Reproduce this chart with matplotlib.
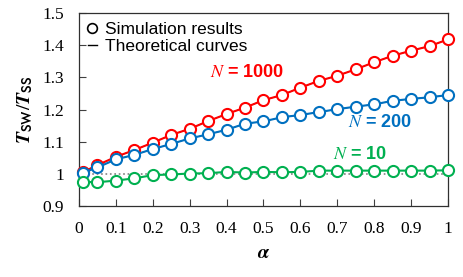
import numpy as np
import matplotlib
matplotlib.use("Agg")
import matplotlib.pyplot as plt
from matplotlib.lines import Line2D

# alpha values of the simulation points
ALPHA = [0.01, 0.05, 0.1, 0.15, 0.2, 0.25, 0.3, 0.35, 0.4, 0.45, 0.5,
         0.55, 0.6, 0.65, 0.7, 0.75, 0.8, 0.85, 0.9, 0.95, 1.0]

# T_SW / T_SS
N1000 = [1.005, 1.027, 1.053, 1.074, 1.097, 1.121, 1.140, 1.164, 1.186, 1.206, 1.229,
         1.245, 1.268, 1.289, 1.305, 1.325, 1.347, 1.367, 1.383, 1.397, 1.418]
N200 = [1.003, 1.020, 1.045, 1.059, 1.077, 1.093, 1.110, 1.123, 1.137, 1.156, 1.163,
        1.176, 1.183, 1.192, 1.201, 1.209, 1.216, 1.227, 1.233, 1.238, 1.245]
N10 = [0.975, 0.974, 0.979, 0.986, 0.996, 0.998, 1.001, 1.002, 1.006, 1.004, 1.006,
       1.005, 1.006, 1.010, 1.010, 1.010, 1.010, 1.010, 1.010, 1.010, 1.011]

# theoretical curve for N = 10 sits on 1
THEORY10 = [1.0, 1.0]
THEORY10_X = [0.0, 1.0]

LABELS = ["$N$ = 1000", "$N$ = 200", "$N$ = 10"]
COLORS = ["#ff0000", "#0070c0", "#00b050"]

SERIF = "Liberation Serif"
SANS = "Liberation Sans"


def main():
    fig = plt.figure(figsize=(4.63, 2.77), dpi=100)
    ax = fig.add_axes([0.1706, 0.2563, 0.7970, 0.6967])

    # theoretical curves (thin, underneath)
    for ys in (N1000, N200):
        ax.plot(ALPHA, ys, color="black", linewidth=0.6, zorder=2)
    ax.plot(THEORY10_X, THEORY10, color="#808080", linewidth=1.2,
            linestyle=":", zorder=2)

    # simulation results
    for ys, c in zip((N1000, N200, N10), COLORS):
        ax.plot(ALPHA, ys, color=c, linewidth=1.5, marker="o", markersize=8,
                markerfacecolor="white", markeredgecolor=c,
                markeredgewidth=1.5, zorder=3, clip_on=False)

    # labels on the curves
    pos = [(0.455, 1.314), (0.815, 1.160), (0.762, 1.061)]
    for (x, y), lab, c in zip(pos, LABELS, COLORS):
        ax.text(x, y, lab, color=c, fontsize=13, fontweight="bold",
                family=SANS, ha="center", va="center",
                math_fontfamily="stix")

    ax.set_xlim(0, 1)
    ax.set_ylim(0.9, 1.5)
    ax.set_xticks(np.arange(0, 1.01, 0.1))
    ax.set_xticklabels(["0", "0.1", "0.2", "0.3", "0.4", "0.5",
                        "0.6", "0.7", "0.8", "0.9", "1"])
    ax.set_yticks(np.arange(0.9, 1.51, 0.1))
    ax.set_yticklabels(["0.9", "1", "1.1", "1.2", "1.3", "1.4", "1.5"])
    ax.tick_params(direction="in", length=5, width=0.8, color="#404040",
                   labelsize=12.5, pad=11)
    for lab in ax.get_xticklabels() + ax.get_yticklabels():
        lab.set_family(SERIF)
    for s in ax.spines.values():
        s.set_color("#303030")
        s.set_linewidth(0.9)

    ax.set_xlabel(r"$\boldsymbol{\alpha}$", fontsize=14, labelpad=4,
                  math_fontfamily="stix")
    ax.set_ylabel(r"$\boldsymbol{T}_{\mathbf{\mathsf{SW}}}/\boldsymbol{T}_{\mathbf{\mathsf{SS}}}$",
                  fontsize=14, labelpad=5, math_fontfamily="stix")

    handles = [
        Line2D([], [], linestyle="none", marker="o", markersize=7,
               markerfacecolor="white", markeredgecolor="black",
               markeredgewidth=1.2),
        Line2D([], [], color="black", linewidth=1.0),
    ]
    ax.legend(handles, ["Simulation results", "Theoretical curves"],
              loc="upper left", frameon=False, handlelength=0.55,
              handletextpad=0.45, borderaxespad=0.1, labelspacing=0.1,
              prop={"family": SANS, "size": 12.5})

    fig.savefig("out.png", dpi=100)


if __name__ == "__main__":
    main()
